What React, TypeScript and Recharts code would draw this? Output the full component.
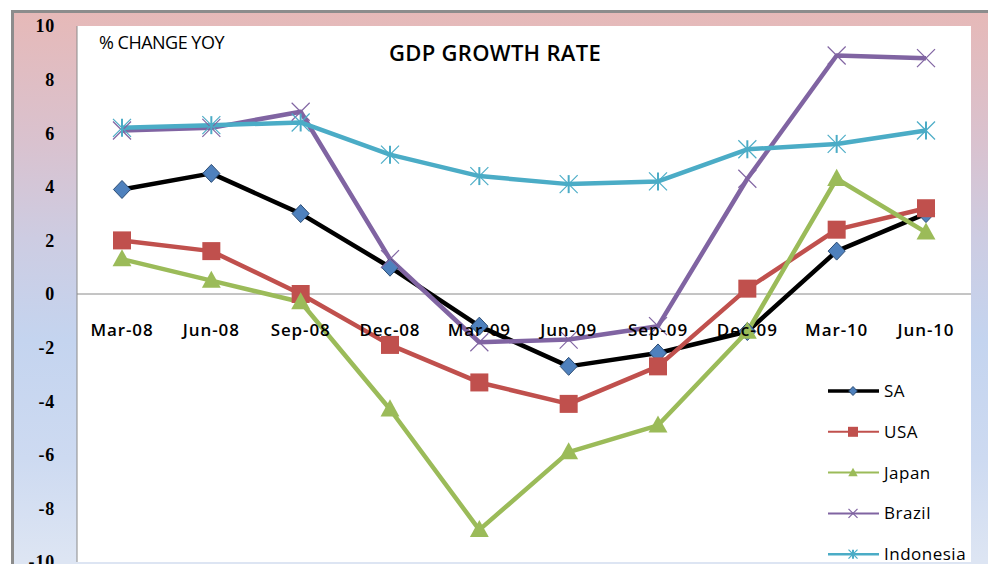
import React from 'react';
import { LineChart, Line, XAxis, YAxis, CartesianGrid, ReferenceLine, Legend } from 'recharts';

const categories = ['Mar-08', 'Jun-08', 'Sep-08', 'Dec-08', 'Mar-09', 'Jun-09', 'Sep-09', 'Dec-09', 'Mar-10', 'Jun-10'];
const sa = [3.9, 4.5, 3.0, 1.0, -1.2, -2.7, -2.2, -1.4, 1.6, 3.0];
const usa = [2.0, 1.6, 0.0, -1.9, -3.3, -4.1, -2.7, 0.2, 2.4, 3.2];
const japan = [1.3, 0.5, -0.3, -4.3, -8.8, -5.9, -4.9, -1.4, 4.3, 2.3];
const brazil = [6.1, 6.2, 6.8, 1.3, -1.8, -1.7, -1.2, 4.3, 8.9, 8.8];
const indonesia = [6.2, 6.3, 6.4, 5.2, 4.4, 4.1, 4.2, 5.4, 5.6, 6.1];
const yTicks = [-10, -8, -6, -4, -2, 0, 2, 4, 6, 8, 10];
const seriesNames = ['SA', 'USA', 'Japan', 'Brazil', 'Indonesia'];

const W = 988;
const H = 564;
const PLOT_LEFT = 77;
const PLOT_TOP = 26;
const PLOT_RIGHT = 971;
const PLOT_BOTTOM = 562;
const ZERO_Y = PLOT_TOP + (PLOT_BOTTOM - PLOT_TOP) / 2;

type MarkerKind = 'diamond' | 'square' | 'triangle' | 'x' | 'star';

const styles: Record<string, { color: string; marker: MarkerKind; fill: string; legendWidth: number }> = {
  SA: { color: '#000000', marker: 'diamond', fill: '#4F81BD', legendWidth: 3.5 },
  USA: { color: '#C0504D', marker: 'square', fill: '#C0504D', legendWidth: 2 },
  Japan: { color: '#9BBB59', marker: 'triangle', fill: '#9BBB59', legendWidth: 2 },
  Brazil: { color: '#8064A2', marker: 'x', fill: '#8064A2', legendWidth: 2 },
  Indonesia: { color: '#4BACC6', marker: 'star', fill: '#4BACC6', legendWidth: 2.5 },
};

function drawMarker(kind: MarkerKind, cx: number, cy: number, s: number, fill: string, key?: any) {
  switch (kind) {
    case 'diamond':
      return (
        <path key={key} d={`M${cx},${cy - s} L${cx + s * 0.95},${cy} L${cx},${cy + s} L${cx - s * 0.95},${cy} Z`}
          fill={fill} stroke="#2C4D75" strokeWidth={1} />
      );
    case 'square':
      return <rect key={key} x={cx - s} y={cy - s} width={s * 2} height={s * 2} fill={fill} />;
    case 'triangle':
      return (
        <path key={key} d={`M${cx},${cy - s * 1.1} L${cx + s * 1.05},${cy + s * 0.8} L${cx - s * 1.05},${cy + s * 0.8} Z`}
          fill={fill} />
      );
    case 'x':
      return (
        <g key={key} stroke={fill} strokeWidth={1.2}>
          <line x1={cx - s} y1={cy - s} x2={cx + s} y2={cy + s} />
          <line x1={cx - s} y1={cy + s} x2={cx + s} y2={cy - s} />
        </g>
      );
    case 'star':
    default:
      return (
        <g key={key} stroke={fill} strokeWidth={1.2}>
          <line x1={cx - s} y1={cy - s} x2={cx + s} y2={cy + s} />
          <line x1={cx - s} y1={cy + s} x2={cx + s} y2={cy - s} />
          <line x1={cx} y1={cy - s} x2={cx} y2={cy + s} strokeWidth={2} />
        </g>
      );
  }
}

const makeDot = (name: string) => (props: any) => {
  const { cx, cy, index } = props;
  const st = styles[name];
  if (cx == null || cy == null) return <g key={`${name}-${index}`} />;
  return drawMarker(st.marker, cx, cy, 9, st.fill, `${name}-${index}`);
};

const XTick = (props: any) => {
  const { x, payload } = props;
  return (
    <text x={x} y={ZERO_Y + 42} textAnchor="middle" fontFamily="'Open Sans', sans-serif" fontSize={17}
      fontWeight={600} fill="#000" letterSpacing={0.9}>
      {payload.value}
    </text>
  );
};

const LegendContent = () => {
  const rowH = 40.8;
  return (
    <svg width={170} height={200} style={{ overflow: 'visible' }}>
      {seriesNames.map((n, i) => {
        const st = styles[n];
        const y = 17 + i * rowH;
        return (
          <g key={n}>
            <line x1={6} y1={y} x2={57} y2={y} stroke={st.color} strokeWidth={st.legendWidth} />
            {drawMarker(st.marker, 31, y, n === 'USA' ? 5 : 4.5, st.fill)}
            <text x={62} y={y + 6} fontFamily="'Open Sans', sans-serif" fontSize={17} fill="#000" letterSpacing={0.5}>{n}</text>
          </g>
        );
      })}
    </svg>
  );
};

export default function App() {
  const data = categories.map((c, i) => ({
    cat: c,
    SA: sa[i],
    USA: usa[i],
    Japan: japan[i],
    Brazil: brazil[i],
    Indonesia: indonesia[i],
  }));
  return (
    <div style={{ position: 'absolute', left: 0, top: 0, width: W, height: H, overflow: 'hidden', background: '#fff' }}>
      <div
        style={{
          position: 'absolute', left: 11, top: 10, width: 1000, height: 600, boxSizing: 'border-box',
          border: '3px solid #8c8c8c',
          background: 'linear-gradient(to bottom, #E6B9B8 0%, #D9C2CF 22%, #CDCCE2 38%, #C4D4EF 55%, #CDDAF1 75%, #DDE5F3 92%)',
        }}
      />
      <LineChart
        width={W}
        height={H}
        data={data}
        margin={{ top: PLOT_TOP, right: W - PLOT_RIGHT, bottom: 0, left: 0 }}
        style={{ position: 'absolute', left: 0, top: 0 }}
      >
        <CartesianGrid fill="#ffffff" horizontal={false} vertical={false} stroke="none" />
        <XAxis dataKey="cat" height={H - PLOT_BOTTOM} axisLine={false} tickLine={false} interval={0}
          padding={{ left: 45, right: 45 }} tick={<XTick />} />
        <YAxis width={PLOT_LEFT} domain={[-10, 10]} ticks={yTicks} interval={0} tickLine={false} tickSize={0}
          tickMargin={22} axisLine={{ stroke: '#8a8a8a', strokeWidth: 1 }}
          tick={{ fontFamily: "'Liberation Serif', serif", fontSize: 18, fontWeight: 'bold', fill: '#000', letterSpacing: 0.8 }} />
        <ReferenceLine y={0} stroke="#8a8a8a" strokeWidth={1} />
        {seriesNames.map((n) => (
          <Line key={n} dataKey={n} stroke={styles[n].color} strokeWidth={4.5} dot={makeDot(n)}
            activeDot={false} isAnimationActive={false} strokeLinejoin="round" />
        ))}
        <Legend layout="horizontal" align="center" verticalAlign="middle" content={<LegendContent />}
          wrapperStyle={{ left: 822, top: 374, width: 170, height: 200 }} />
      </LineChart>
      <div style={{ position: 'absolute', left: 295, width: 400, top: 37, textAlign: 'center', fontFamily: "'Open Sans', sans-serif", fontWeight: 600, fontSize: 22, lineHeight: '30px', color: '#000', letterSpacing: 0.3 }}>
        GDP GROWTH RATE
      </div>
      <div style={{ position: 'absolute', left: 99, top: 29, fontFamily: "'Open Sans', sans-serif", fontSize: 18, lineHeight: '26px', color: '#000', letterSpacing: -0.5 }}>
        % CHANGE YOY
      </div>
    </div>
  );
}
